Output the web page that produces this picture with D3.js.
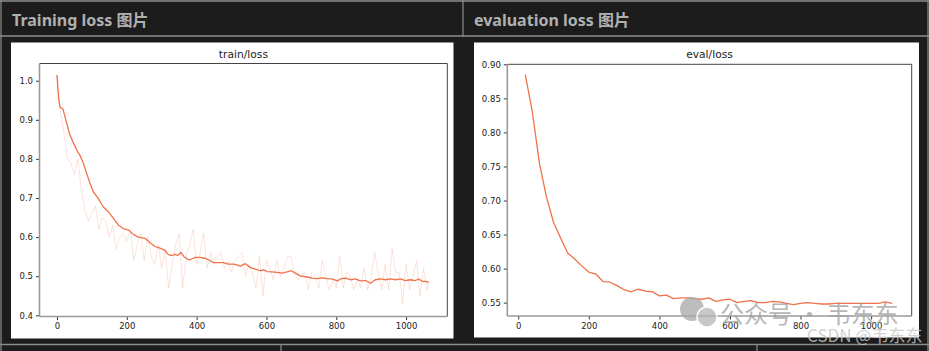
<!DOCTYPE html>
<html><head><meta charset="utf-8">
<script src="https://cdn.jsdelivr.net/npm/d3@7"></script>
<style>
html,body{margin:0;padding:0;background:#1c1c1c;}
svg{display:block;}
</style></head>
<body>
<svg id="c" width="929" height="351"></svg>
<script>
// ---------- data ----------
const headerTitles = ["Training loss 图片", "evaluation loss 图片"];
const plotTitles = ["train/loss", "eval/loss"];
const xTicks = [0, 200, 400, 600, 800, 1000];
const trainYTicks = [0.4, 0.5, 0.6, 0.7, 0.8, 0.9, 1.0];
const evalYTicks = [0.55, 0.60, 0.65, 0.70, 0.75, 0.80, 0.85, 0.90];

const trainRawSteps = [0,10,20,30,40,50,60,70,80,90,100,110,120,130,140,150,160,170,180,190,200,210,220,230,240,250,260,270,280,290,300,310,320,330,340,350,360,370,380,390,400,410,420,430,440,450,460,470,480,490,500,510,520,530,540,550,560,570,580,590,600,610,620,630,640,650,660,670,680,690,700,710,720,730,740,750,760,770,780,790,800,810,820,830,840,850,860,870,880,890,900,910,920,930,940,950,960,970,980,990,1000,1010,1020,1030,1040,1050,1060,1065];
const trainRawLoss = [1.01,0.92,0.87,0.80,0.79,0.76,0.80,0.72,0.67,0.64,0.66,0.68,0.62,0.65,0.64,0.60,0.63,0.57,0.60,0.61,0.59,0.62,0.54,0.58,0.61,0.54,0.60,0.55,0.53,0.58,0.52,0.57,0.47,0.53,0.58,0.61,0.47,0.55,0.58,0.62,0.53,0.56,0.61,0.52,0.56,0.53,0.55,0.56,0.52,0.54,0.51,0.54,0.55,0.56,0.50,0.53,0.51,0.47,0.55,0.45,0.54,0.52,0.49,0.54,0.50,0.52,0.55,0.55,0.51,0.49,0.50,0.51,0.465,0.51,0.50,0.47,0.54,0.50,0.465,0.49,0.47,0.55,0.47,0.51,0.50,0.465,0.49,0.47,0.52,0.465,0.50,0.56,0.51,0.465,0.53,0.465,0.57,0.51,0.51,0.43,0.53,0.465,0.50,0.54,0.45,0.52,0.465,0.49];

const trainSmoothSteps = [0,5,9,17,26,36,47,57,66,76,85,95,104,118,133,147,162,176,190,205,219,233,252,266,281,295,310,319,329,338,345,355,364,377,386,396,410,424,434,448,462,477,491,505,515,525,540,554,568,583,592,602,616,631,645,659,671,683,697,716,731,745,760,774,788,803,812,826,841,855,869,884,898,912,927,941,955,970,984,998,1012,1027,1036,1046,1055,1065];
const trainSmoothLoss = [1.015,0.953,0.932,0.928,0.898,0.864,0.841,0.822,0.809,0.788,0.763,0.737,0.716,0.699,0.677,0.665,0.648,0.631,0.622,0.618,0.607,0.600,0.597,0.586,0.576,0.572,0.566,0.555,0.553,0.556,0.553,0.561,0.550,0.542,0.544,0.548,0.548,0.546,0.542,0.535,0.535,0.535,0.531,0.531,0.529,0.526,0.532,0.522,0.518,0.514,0.516,0.512,0.511,0.510,0.508,0.511,0.514,0.508,0.501,0.498,0.495,0.494,0.496,0.494,0.493,0.488,0.493,0.495,0.491,0.493,0.488,0.489,0.482,0.491,0.493,0.491,0.493,0.491,0.493,0.489,0.491,0.489,0.493,0.487,0.487,0.484];

const evalSteps = [20,40,60,80,100,120,140,160,180,200,220,240,260,280,300,320,340,360,380,400,420,440,460,480,500,520,540,560,580,600,620,640,660,680,700,720,740,760,780,800,820,840,860,880,900,920,940,960,980,1000,1020,1040,1060];
const evalLoss = [0.885,0.830,0.755,0.705,0.668,0.645,0.623,0.614,0.604,0.595,0.592,0.581,0.580,0.575,0.569,0.566,0.570,0.567,0.566,0.560,0.561,0.556,0.557,0.557,0.556,0.555,0.557,0.552,0.554,0.555,0.550,0.552,0.553,0.550,0.550,0.552,0.551,0.549,0.547,0.549,0.550,0.549,0.548,0.548,0.549,0.549,0.549,0.549,0.549,0.549,0.549,0.551,0.549];

// ---------- drawing ----------
const svg = d3.select("#c");
const ORANGE = "#f0714a";
const BORDER = "#8c8c8c";

svg.append("rect").attr("x",0).attr("y",0).attr("width",929).attr("height",351).attr("fill","#1c1c1c");
[[0,1,929,1],[0,36,929,36],[0,344.5,929,344.5]].forEach(l=>{
  svg.append("line").attr("x1",l[0]).attr("y1",l[1]).attr("x2",l[2]).attr("y2",l[3]).attr("stroke",BORDER).attr("stroke-width",1.5);
});
[[1,0,1,351],[463,0,463,37],[281,345,281,351],[757,345,757,351],[928,0,928,351]].forEach(l=>{
  svg.append("line").attr("x1",l[0]).attr("y1",l[1]).attr("x2",l[2]).attr("y2",l[3]).attr("stroke",BORDER).attr("stroke-width",1.2);
});

const hx = [12, 474];
headerTitles.forEach((t,i)=>{
  svg.append("text").attr("x",hx[i]).attr("y",26).text(t)
    .attr("font-family","'Noto Sans', 'Noto Sans CJK SC', sans-serif")
    .attr("font-weight","bold").attr("font-size",16).attr("fill","#b0b0b0");
});

svg.append("rect").attr("x",11).attr("y",42.5).attr("width",442.5).attr("height",296).attr("fill","#fff");
svg.append("rect").attr("x",474).attr("y",42.5).attr("width",445).attr("height",295).attr("fill","#fff");

function drawPanel(cfg){
  const g = svg.append("g");
  const x = d3.scaleLinear().domain(cfg.xDomain).range([cfg.left, cfg.right]);
  const y = d3.scaleLinear().domain(cfg.yDomain).range([cfg.bottom, cfg.top]);
  g.append("text").attr("x",(cfg.left+cfg.right)/2).attr("y",cfg.top-6).attr("text-anchor","middle")
    .attr("font-family","'DejaVu Sans', sans-serif").attr("font-size",10.7).attr("fill","#222").text(cfg.title);
  const line = d3.line().x(d=>x(d[0])).y(d=>y(d[1]));
  cfg.series.forEach(s=>{
    g.append("path").datum(d3.zip(s.steps, s.vals)).attr("d", line)
      .attr("fill","none").attr("stroke",ORANGE).attr("stroke-width",s.w)
      .attr("stroke-opacity",s.op).attr("stroke-linejoin","round");
  });
  const xa = g.append("g").attr("transform",`translate(0,${cfg.bottom})`)
    .call(d3.axisBottom(x).tickValues(xTicks).tickSize(3.5).tickPadding(3).tickFormat(d3.format("d")));
  const ya = g.append("g").attr("transform",`translate(${cfg.left},0)`)
    .call(d3.axisLeft(y).tickValues(cfg.yTicks).tickSize(3.5).tickPadding(3).tickFormat(d3.format(cfg.yFmt)));
  [xa,ya].forEach(a=>{
    a.select(".domain").remove();
    a.selectAll(".tick line").attr("stroke","#333");
    a.selectAll(".tick text").attr("font-family","'DejaVu Sans', sans-serif").attr("font-size",8.5).attr("fill","#222");
  });
  g.append("line").attr("x1",cfg.left).attr("x2",cfg.right).attr("y1",cfg.top).attr("y2",cfg.top).attr("stroke","#444").attr("stroke-width",1);
  g.append("line").attr("x1",cfg.right).attr("x2",cfg.right).attr("y1",cfg.top).attr("y2",cfg.bottom).attr("stroke","#444").attr("stroke-width",1);
  g.append("line").attr("x1",cfg.left).attr("x2",cfg.right).attr("y1",cfg.bottom).attr("y2",cfg.bottom).attr("stroke","#9a9a9a").attr("stroke-width",1.6);
  g.append("line").attr("x1",cfg.left).attr("x2",cfg.left).attr("y1",cfg.top).attr("y2",cfg.bottom).attr("stroke","#9a9a9a").attr("stroke-width",1.6);
}

drawPanel({
  title: plotTitles[0], left:39.5, right:447.3, top:63.5, bottom:316.5,
  xDomain:[-50,1118], yDomain:[0.397,1.044], yTicks: trainYTicks, yFmt:".1f",
  series:[
    {steps:trainRawSteps, vals:trainRawLoss, w:1, op:0.2},
    {steps:trainSmoothSteps, vals:trainSmoothLoss, w:1.3, op:1}
  ]
});
drawPanel({
  title: plotTitles[1], left:507.3, right:911.7, top:64.3, bottom:316,
  xDomain:[-31,1115], yDomain:[0.5304,0.90], yTicks: evalYTicks, yFmt:".2f",
  series:[{steps:evalSteps, vals:evalLoss, w:1.3, op:1}]
});

// watermarks (overlaid on the reference image)
const wm = svg.append("g").attr("opacity",0.75);
wm.append("circle").attr("cx",692).attr("cy",309).attr("r",12).attr("fill","#a8a8a8");
wm.append("circle").attr("cx",707).attr("cy",317).attr("r",10).attr("fill","#b5b5b5").attr("stroke","#fff").attr("stroke-width",1.5);
wm.append("text").attr("x",720).attr("y",323).text("公众号 · 韦东东")
  .attr("font-family","'Noto Sans CJK SC', sans-serif").attr("font-size",24).attr("fill","#a0a0a0");
svg.append("text").attr("x",807).attr("y",342).text("CSDN @韦东东")
  .attr("font-family","'Noto Sans CJK SC', sans-serif").attr("font-size",17).attr("fill","#c8c8c8").attr("opacity",0.8);
</script>
</body></html>
